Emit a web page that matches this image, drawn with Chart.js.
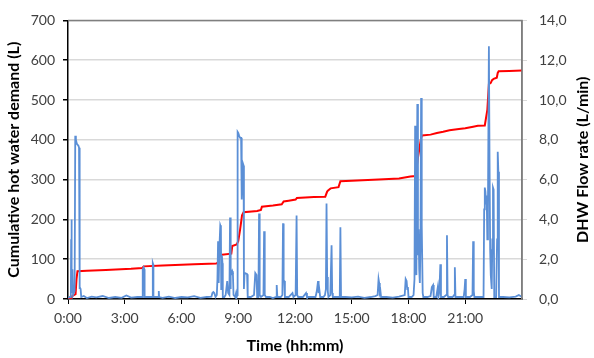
<!DOCTYPE html>
<html>
<head>
<meta charset="utf-8">
<script src="https://cdn.jsdelivr.net/npm/chart.js@4.4.1/dist/chart.umd.min.js"></script>
<style>
  html, body { margin: 0; padding: 0; background: #fff; }
  #wrap { width: 594px; height: 358px; }
</style>
</head>
<body>
<div id="wrap"><canvas id="myChart" width="594" height="358"></canvas></div>
<script>
// DHW flow rate (L/min), time in minutes after midnight
const flowTime = [
  0, 6, 9, 10, 11, 12, 14, 16, 21, 23, 25, 28, 33, 35, 36, 38, 40, 42,
  50, 60, 75, 90, 110, 130, 150, 170, 185, 200, 220, 236, 237, 240, 242, 243,
  255, 268, 269, 270, 271, 280, 287, 288, 289,
  300, 320, 340, 360, 380, 400, 420, 440, 455, 458, 461, 464, 468,
  472, 474, 476, 478, 480, 483, 485, 486, 488, 490, 491, 496,
  500, 505, 508, 512, 514, 515, 517, 519, 521, 523, 525, 530, 533, 535,
  537, 538, 540, 543, 546, 549, 551, 553, 555, 557, 558, 560, 562, 568, 570,
  580, 590, 594, 596, 598, 600, 604, 606, 608, 612, 620, 622, 624, 628,
  640, 650, 660, 662, 664, 675, 680, 682, 684, 686, 688,
  700, 712, 715, 722, 725, 727, 730,
  745, 755, 758, 770, 785, 788, 790, 793, 795, 797, 800,
  810, 815, 818, 820, 822, 824, 826, 832, 836, 838, 840,
  855, 862, 864, 866,
  880, 900, 920, 940, 960, 975, 982, 985, 987, 989, 991, 993,
  1010, 1030, 1050, 1068, 1071, 1074, 1076, 1078, 1080,
  1090, 1096, 1099, 1101, 1103, 1105, 1108, 1110, 1112, 1114, 1116, 1118, 1120, 1122, 1125, 1127,
  1140, 1150, 1154, 1158, 1160, 1168, 1173, 1175, 1178, 1181, 1183,
  1192, 1200, 1202, 1204, 1206, 1220, 1225, 1227, 1229,
  1245, 1255, 1258, 1260, 1262, 1275, 1283, 1285, 1287, 1289,
  1305, 1318, 1320, 1322, 1324, 1326, 1328, 1330, 1332, 1335, 1337, 1339, 1341, 1344, 1346, 1348, 1350, 1352,
  1358, 1361, 1363, 1365, 1367,
  1380, 1400, 1420, 1430, 1440
];
const flowRate = [
  0.05, 0.1, 0.1, 3.0, 4.0, 0.3, 1.5, 0.2, 0.4, 8.2, 8.0, 7.8, 7.7, 7.6, 0.5, 0.6, 0.5, 0.1,
  0.15, 0.05, 0.12, 0.08, 0.15, 0.05, 0.1, 0.06, 0.18, 0.07, 0.1, 0.1, 1.5, 1.6, 1.5, 0.1,
  0.1, 0.1, 1.8, 1.75, 0.1, 0.1, 0.1, 0.4, 0.1,
  0.06, 0.12, 0.05, 0.1, 0.08, 0.14, 0.06, 0.1, 0.12, 0.3, 0.35, 0.3, 0.1,
  0.2, 1.0, 2.9, 0.8, 2.5, 3.7, 3.6, 0.5, 2.2, 1.8, 0.1, 0.1,
  0.2, 0.9, 0.3, 0.2, 4.1, 0.5, 1.4, 1.3, 1.4, 1.3, 0.2, 0.1, 0.3, 0.1,
  0.2, 8.4, 8.35, 8.2, 8.1, 8.1, 5.0, 6.0, 6.8, 6.7, 0.5, 1.3, 1.3, 1.25, 0.1,
  0.1, 0.2, 1.3, 1.3, 1.2, 0.1, 0.1, 4.3, 0.2, 0.1, 0.2, 3.4, 0.2, 0.1,
  0.1, 0.05, 0.1, 0.7, 0.1, 0.1, 0.2, 3.8, 0.9, 0.9, 0.1,
  0.1, 0.3, 0.1, 0.2, 4.2, 0.2, 0.1,
  0.1, 0.3, 0.1, 0.1, 0.1, 0.3, 0.5, 0.9, 0.3, 0.5, 0.1,
  0.1, 0.2, 0.5, 4.8, 1.1, 0.4, 0.1, 0.2, 2.7, 0.3, 0.1,
  0.1, 0.1, 3.6, 0.1,
  0.1, 0.08, 0.12, 0.06, 0.1, 0.15, 0.2, 1.0, 0.8, 0.3, 0.4, 0.1,
  0.1, 0.07, 0.12, 0.2, 1.0, 0.9, 0.5, 0.6, 0.1,
  0.1, 0.2, 1.0, 8.7, 2.0, 1.2, 9.8, 2.2, 3.5, 1.5, 0.8, 3.0, 10.1, 3.7, 0.3, 0.1,
  0.1, 0.15, 0.6, 0.7, 0.1, 0.1, 0.6, 0.1, 0.4, 1.75, 0.1,
  0.1, 0.2, 3.2, 0.2, 0.1, 0.1, 0.2, 1.6, 0.1,
  0.1, 0.1, 0.5, 1.0, 0.1, 0.1, 0.2, 2.9, 0.4, 0.1,
  0.1, 0.1, 4.5, 5.6, 5.4, 4.8, 5.2, 3.0, 4.5, 12.7, 7.0, 2.5, 1.2, 0.5, 3.0, 5.6, 5.5, 0.1,
  0.1, 3.0, 7.4, 6.4, 0.1,
  0.1, 0.08, 0.12, 0.2, 0.1
];

// cumulative hot water demand (L)
const cumTime = [
  0, 10, 14, 24, 27, 30, 60, 120, 200, 236, 240, 300, 400, 470, 476, 478, 488, 518, 521, 535,
  540, 546, 552, 557, 600, 612, 615, 650, 678, 684, 700, 722, 726, 780, 816, 822, 825, 833, 858, 864,
  900, 985, 1050, 1086, 1102, 1106, 1110, 1116, 1120, 1123, 1150, 1170, 1190, 1210, 1240, 1260, 1285,
  1300, 1322, 1330, 1335, 1341, 1345, 1350, 1360, 1363, 1366, 1400, 1440
];
const cumVolume = [
  0, 0, 8, 12, 50, 70, 71, 73, 76, 78, 82, 84, 87, 89, 92, 108, 111, 114, 133, 137,
  145, 175, 210, 218, 221, 224, 232, 235, 238, 245, 247, 250, 254, 256, 257, 270, 273, 278, 281, 296,
  297, 300, 303, 308, 309, 330, 355, 385, 405, 411, 413, 417, 420, 424, 427, 429, 433,
  435, 436, 475, 540, 543, 550, 553, 556, 568, 572, 573, 574
];

const hourTickStep = 180; // 3:00
const decimalComma = v => v.toFixed(1).replace('.', ',');

const tickFont = { family: 'Lato', size: 14 };
const titleFont = { family: 'Lato', size: 16, weight: 'bold' };

// frame on top/right of the plot + right axis title (reads bottom to top like the left one)
const plotFrame = {
  id: 'plotFrame',
  afterDraw(chart) {
    const a = chart.chartArea;
    const c = chart.ctx;
    c.save();
    c.strokeStyle = '#7f7f7f';
    c.lineWidth = 1.5;
    c.beginPath();
    c.moveTo(a.left, a.top);
    c.lineTo(a.right, a.top);
    c.lineTo(a.right, a.bottom);
    c.stroke();

    c.translate(583, (a.top + a.bottom) / 2);
    c.rotate(-Math.PI / 2);
    c.font = 'bold 16px Lato';
    c.fillStyle = '#000';
    c.textAlign = 'center';
    c.textBaseline = 'middle';
    c.fillText('DHW Flow rate (L/min)', 0, 0);
    c.restore();
  }
};

const ctx = document.getElementById('myChart').getContext('2d');
new Chart(ctx, {
  type: 'line',
  data: {
    datasets: [
      {
        label: 'DHW flow rate',
        data: flowTime.map((t, i) => ({ x: t, y: flowRate[i] })),
        yAxisID: 'yFlow',
        borderColor: '#5b8fd6',
        borderWidth: 1.8,
        pointRadius: 0,
        tension: 0,
        order: 0
      },
      {
        label: 'Cumulative demand',
        data: cumTime.map((t, i) => ({ x: t, y: cumVolume[i] })),
        yAxisID: 'yCum',
        borderColor: '#ff0000',
        borderWidth: 2,
        pointRadius: 0,
        tension: 0,
        order: 1
      }
    ]
  },
  options: {
    responsive: false,
    animation: false,
    layout: { padding: { top: 10, left: 0, right: 0, bottom: 0 } },
    plugins: {
      legend: { display: false },
      tooltip: { enabled: false }
    },
    scales: {
      x: {
        type: 'linear',
        min: 0,
        max: 1440,
        afterFit: s => { s.height = 59; },
        ticks: {
          stepSize: hourTickStep,
          color: '#404040',
          font: tickFont,
          padding: 6,
          maxRotation: 0,
          callback: v => (v >= 1440 ? null : (v / 60) + ':00')
        },
        grid: { display: true, drawOnChartArea: false, color: '#000', tickLength: 5, lineWidth: 1 },
        border: { color: '#000', width: 1.5 },
        title: { display: true, text: 'Time (hh:mm)', color: '#000', font: titleFont, padding: { top: 2, bottom: 3 } }
      },
      yCum: {
        position: 'left',
        min: 0,
        max: 700,
        afterFit: s => { s.width = 68; },
        ticks: { stepSize: 100, color: '#404040', font: tickFont, padding: 8 },
        grid: { color: '#d9d9d9', lineWidth: 1.5, tickLength: 5, tickColor: '#000' },
        border: { color: '#000', width: 1.5 },
        title: { display: true, text: 'Cumulative hot water demand (L)', color: '#000', font: titleFont, padding: { top: 4, bottom: 2 } }
      },
      yFlow: {
        position: 'right',
        min: 0,
        max: 14,
        afterFit: s => { s.width = 72; },
        ticks: { stepSize: 2, color: '#404040', font: tickFont, padding: 12, callback: v => decimalComma(v) },
        grid: { drawOnChartArea: false, color: '#d9d9d9', tickLength: 5 },
        border: { color: '#7f7f7f', width: 1.5 },
        title: { display: false }
      }
    }
  },
  plugins: [plotFrame]
});
</script>
</body>
</html>
